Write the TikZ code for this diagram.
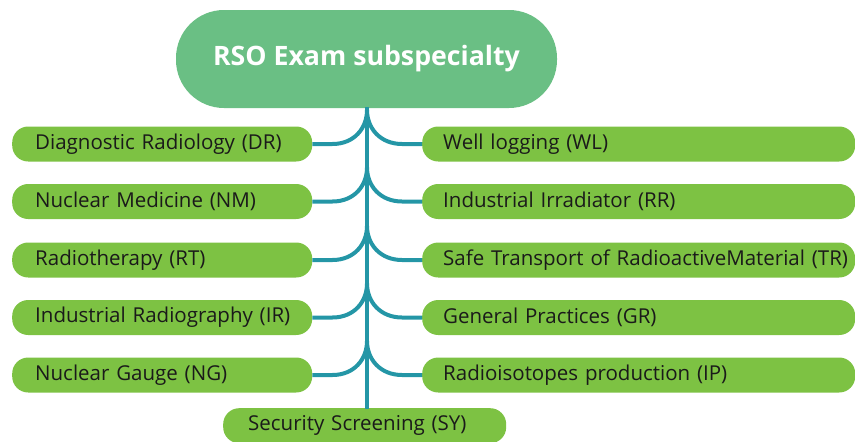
\documentclass[tikz,border=0pt]{standalone}
\usepackage{fontspec}
\setmainfont{Open Sans}
\definecolor{titlegreen}{HTML}{6ABF84}
\definecolor{boxgreen}{HTML}{7DC243}
\definecolor{teal}{HTML}{2496A6}
\definecolor{txt}{HTML}{1A1A1A}
\begin{document}
\begin{tikzpicture}[x=1pt,y=-1pt,
  item/.style={fill=boxgreen, rounded corners=16pt, minimum height=35pt, inner ysep=0pt,
    anchor=west, font=\fontsize{20.5}{22}\selectfont, text=txt, align=left},
  leftitem/.style={item, inner xsep=23pt, text width=254pt},
  rightitem/.style={item, inner xsep=21pt, text width=391pt},
  link/.style={draw=teal, line width=4pt},
  trunk/.style={draw=teal, line width=4.5pt}]
\useasboundingbox (0,0) rectangle (855,442);
\node[fill=titlegreen, rounded corners=48pt, minimum width=381pt, minimum height=98pt,
  text=white, font=\bfseries\fontsize{26.7}{30}\selectfont] (title) at (366.5,59) {RSO Exam subspecialty};
\node[item, inner xsep=25pt, text width=233pt, anchor=north west] (sy) at (223,408) {\mbox{Security Screening (SY)}};
\coordinate (ttop) at (367,107);
\coordinate (tbot) at (367,409);
\draw[trunk] (ttop) -- (tbot);
\foreach \n/\lab/\rlab/\y in {dr/{Diagnostic Radiology (DR)}/{Well logging (WL)}/144,
  nm/{Nuclear Medicine (NM)}/{Industrial Irradiator (RR)}/201.5,
  rt/{Radiotherapy (RT)}/{Safe Transport of RadioactiveMaterial (TR)}/260,
  ir/{Industrial Radiography (IR)}/{General Practices (GR)}/317.5,
  ng/{Nuclear Gauge (NG)}/{Radioisotopes production (IP)}/375}{
  \node[leftitem] (\n L) at (12,\y) {\mbox{\lab}};
  \node[rightitem] (\n R) at (422,\y) {\mbox{\rlab}};
  \coordinate (\n J) at (367,\y-34);
  \draw[link] (\n L.east) -- ++(20,0) .. controls +(22,0) and +(0,18) .. (\n J);
  \draw[link] (\n R.west) -- ++(-20,0) .. controls +(-22,0) and +(0,18) .. (\n J);
}
\end{tikzpicture}
\end{document}
